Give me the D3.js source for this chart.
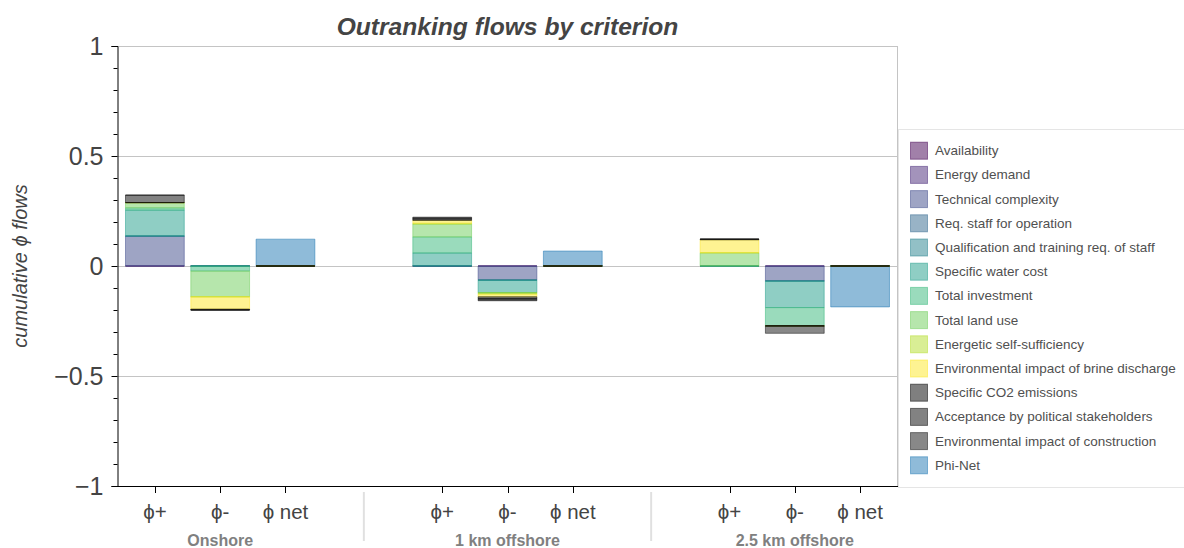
<!DOCTYPE html>
<html>
<head>
<meta charset="utf-8">
<script src="https://cdn.jsdelivr.net/npm/d3@7"></script>
<style>
  body { margin: 0; background: #fff; }
  svg { display: block; font-family: "Liberation Sans", Arial, Helvetica, sans-serif; }
</style>
</head>
<body>
<svg id="chart" width="1184" height="548"></svg>
<script>
// criteria in stacking order
const criteria = [
    'Availability', 'Energy demand', 'Technical complexity', 'Req. staff for operation',
    'Qualification and training req. of staff', 'Specific water cost', 'Total investment',
    'Total land use', 'Energetic self-sufficiency', 'Environmental impact of brine discharge',
    'Specific CO2 emissions', 'Acceptance by political stakeholders', 'Environmental impact of construction'
];
const criteriaColors = [
    '#440154', '#482878', '#3E4A89', '#31688E', '#26828E', '#1F9E89', '#35B779',
    '#6DCD59', '#B4DE2C', '#FDE725', '#000000', '#060606', '#121212'
];
const netLabel = 'Phi-Net';
const netColor = '#1f77b4';

const alternatives = ['Onshore', '1 km offshore', '2.5 km offshore'];
const flowLabels = ['\u03d5+', '\u03d5-', '\u03d5 net'];

// phi+ and phi- contributions per criterion (same order as criteria)
const phiPlusOnshore  = [0, 0, 0.136, 0, 0, 0.118, 0.010, 0.024, 0, 0, 0, 0.034, 0];
const phiMinusOnshore = [0, 0, 0, 0, 0, 0, -0.023, -0.117, 0, -0.056, -0.004, 0, 0];
const phiPlus1km      = [0, 0, 0, 0, 0, 0.059, 0.073, 0.058, 0.004, 0.013, 0.006, 0.005, 0.004];
const phiMinus1km     = [0, 0, -0.064, 0, 0, -0.058, 0, 0, -0.006, -0.012, -0.008, -0.006, -0.004];
const phiPlus25km     = [0, 0, 0, 0, 0, 0, 0, 0.060, 0, 0.059, 0.003, 0, 0];
const phiMinus25km    = [0, 0, -0.068, 0, 0, -0.121, -0.083, 0, 0, 0, 0, 0, -0.034];
const phiNet          = [0.122, 0.068, -0.186];

const yTicks = [-1, -0.5, 0, 0.5, 1];
const titleText = 'Outranking flows by criterion';
const yLabelText = 'cumulative \u03d5 flows';

// layout
const plotLeft = 118, plotRight = 897, plotTop = 46, plotBottom = 486;
const groupPadding = 1.4, rangePad = 0.065, barWidth = 0.9;

const svg = d3.select('#chart');

const nUnits = alternatives.length * flowLabels.length + (alternatives.length - 1) * groupPadding;
const x = d3.scaleLinear().domain([-rangePad, nUnits + rangePad]).range([plotLeft, plotRight]);
const y = d3.scaleLinear().domain([-1, 1]).range([plotBottom, plotTop]);

function factorPos(g, i){
    return g * (flowLabels.length + groupPadding) + i + 0.5;
}

// rows for the stack: one per alternative/flow
const perAlt = [
    [phiPlusOnshore, phiMinusOnshore],
    [phiPlus1km, phiMinus1km],
    [phiPlus25km, phiMinus25km]
];
const rows = [];
alternatives.forEach((alt, g) => {
    flowLabels.forEach((fl, i) => {
        const row = {pos: factorPos(g, i)};
        criteria.forEach((c, k) => {
            row[c] = i < 2 ? perAlt[g][i][k] : 0;
        });
        rows.push(row);
    });
});

// plain cumulative stacking, like a vbar_stack
const series = d3.stack().keys(criteria).offset(d3.stackOffsetNone)(rows);
const colorScale = d3.scaleOrdinal().domain(criteria).range(criteriaColors);

// grid lines
svg.append('g')
    .selectAll('line')
    .data(yTicks.filter(t => t > -1))
    .enter()
    .append('line')
        .attr('x1', plotLeft).attr('x2', plotRight)
        .attr('y1', d => y(d) + 0.5).attr('y2', d => y(d) + 0.5)
        .attr('stroke', '#c4c4c4')
        .attr('stroke-width', 1);

// plot frame right border
svg.append('line')
    .attr('x1', plotRight + 0.5).attr('x2', plotRight + 0.5)
    .attr('y1', plotTop).attr('y2', plotBottom)
    .attr('stroke', '#c4c4c4');

function barPath(cx, v0, v1){
    const x0 = x(cx - barWidth / 2), x1 = x(cx + barWidth / 2);
    const a = y(v0), b = y(v1);
    return 'M' + x0 + ',' + a + 'H' + x1 + 'V' + b + 'H' + x0 + 'Z';
}

// phi net bars
svg.append('g')
    .selectAll('path')
    .data(phiNet)
    .enter()
    .append('path')
        .attr('d', (d, g) => barPath(factorPos(g, 2), 0, d))
        .attr('fill', netColor).attr('fill-opacity', 0.5)
        .attr('stroke', netColor).attr('stroke-opacity', 0.5);

// stacked criterion bars
const layers = svg.append('g')
    .selectAll('g')
    .data(series)
    .enter()
    .append('g')
        .attr('fill', d => colorScale(d.key))
        .attr('stroke', d => colorScale(d.key))
        .attr('fill-opacity', 0.5)
        .attr('stroke-opacity', 0.5);

layers.selectAll('path')
    .data(d => d)
    .enter()
    .append('path')
        .attr('d', d => barPath(d.data.pos, d[0], d[1]));

// y axis
const yAxis = svg.append('g')
    .attr('transform', 'translate(' + (plotLeft - 0.5) + ',0)')
    .call(d3.axisLeft(y).tickValues(yTicks).tickSize(6).tickPadding(8)
        .tickFormat(d3.format('~g')));
yAxis.select('.domain').attr('stroke', '#000');
yAxis.selectAll('text').attr('font-size', 25).attr('fill', '#444')
    .attr('font-family', '"Liberation Sans", Arial, sans-serif');

const minorTicks = d3.range(-10, 11).map(d => d / 10).filter(d => Math.abs(d * 2 - Math.round(d * 2)) > 1e-6);
svg.append('g')
    .attr('transform', 'translate(' + (plotLeft - 0.5) + ',0)')
    .call(d3.axisLeft(y).tickValues(minorTicks).tickSize(4).tickFormat(''))
    .select('.domain').remove();

// x axis
const xAxisG = svg.append('g');
xAxisG.append('line')
    .attr('x1', plotLeft - 1).attr('x2', plotRight + 1)
    .attr('y1', plotBottom + 0.5).attr('y2', plotBottom + 0.5)
    .attr('stroke', '#000');

const xTicks = [];
alternatives.forEach((alt, g) => {
    flowLabels.forEach((fl, i) => xTicks.push({pos: factorPos(g, i), label: fl}));
});

xAxisG.selectAll('.xtick')
    .data(xTicks)
    .enter()
    .append('line')
        .attr('class', 'xtick')
        .attr('x1', d => Math.round(x(d.pos)) + 0.5).attr('x2', d => Math.round(x(d.pos)) + 0.5)
        .attr('y1', plotBottom).attr('y2', plotBottom + 7)
        .attr('stroke', '#000');

xAxisG.selectAll('.xlabel')
    .data(xTicks)
    .enter()
    .append('text')
        .attr('class', 'xlabel')
        .attr('x', d => x(d.pos))
        .attr('y', 519)
        .attr('text-anchor', 'middle')
        .attr('font-size', 20.5)
        .attr('fill', '#444')
        .text(d => d.label);

xAxisG.selectAll('.glabel')
    .data(alternatives)
    .enter()
    .append('text')
        .attr('class', 'glabel')
        .attr('x', (d, g) => x(factorPos(g, 1)))
        .attr('y', 546)
        .attr('text-anchor', 'middle')
        .attr('font-size', 16)
        .attr('font-weight', 'bold')
        .attr('fill', '#808080')
        .text(d => d);

// group separators
xAxisG.selectAll('.sep')
    .data(alternatives.slice(1))
    .enter()
    .append('line')
        .attr('class', 'sep')
        .attr('x1', (d, g) => x(factorPos(g, 2) + 0.5 + groupPadding / 2))
        .attr('x2', (d, g) => x(factorPos(g, 2) + 0.5 + groupPadding / 2))
        .attr('y1', 492).attr('y2', 541)
        .attr('stroke', '#e0e0e0')
        .attr('stroke-width', 2);

// title
svg.append('text')
    .attr('x', (plotLeft + plotRight) / 2)
    .attr('y', 35)
    .attr('text-anchor', 'middle')
    .attr('font-size', 24.6)
    .attr('font-weight', 'bold')
    .attr('font-style', 'italic')
    .attr('fill', '#444')
    .text(titleText);

// y label
svg.append('text')
    .attr('transform', 'translate(27,' + y(0) + ') rotate(-90)')
    .attr('text-anchor', 'middle')
    .attr('font-size', 20)
    .attr('font-style', 'italic')
    .attr('fill', '#444')
    .text(yLabelText);

// legend
const legendItems = criteria.map((c, k) => ({label: c, color: criteriaColors[k]}))
    .concat([{label: netLabel, color: netColor}]);
const legend = svg.append('g').attr('transform', 'translate(898,129)');
legend.append('rect')
    .attr('x', 0.5).attr('y', 0.5)
    .attr('width', 300).attr('height', 358)
    .attr('fill', '#fff')
    .attr('stroke', '#e5e5e5');
const entry = legend.selectAll('.entry')
    .data(legendItems)
    .enter()
    .append('g')
        .attr('class', 'entry')
        .attr('transform', (d, i) => 'translate(0,' + (21.7 + i * 24.2) + ')');
entry.append('rect')
    .attr('x', 12.5).attr('y', -8.5)
    .attr('width', 17).attr('height', 17)
    .attr('fill', d => d.color).attr('fill-opacity', 0.5)
    .attr('stroke', d => d.color).attr('stroke-opacity', 0.5);
entry.append('text')
    .attr('x', 37)
    .attr('y', 4.5)
    .attr('font-size', 13.5)
    .attr('fill', '#505050')
    .text(d => d.label);
</script>
</body>
</html>
